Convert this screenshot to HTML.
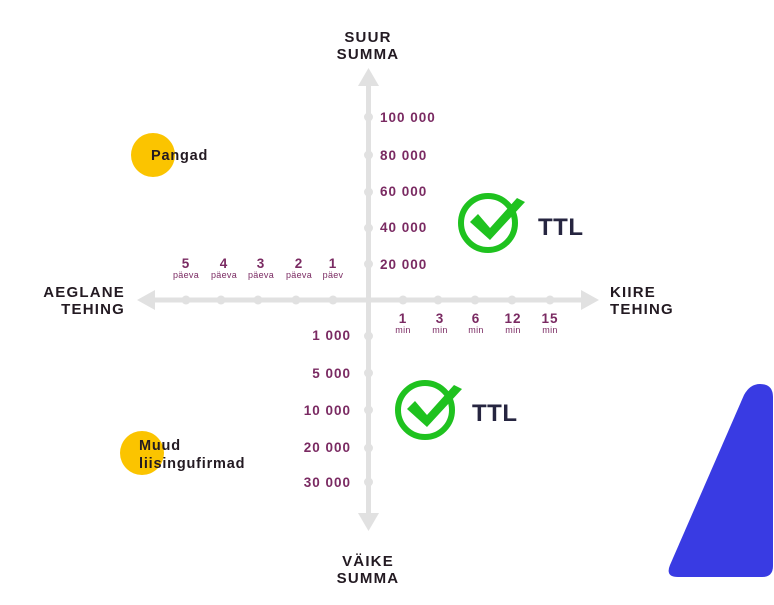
<!DOCTYPE html>
<html><head><meta charset="utf-8"><style>
html,body{margin:0;padding:0;background:#fff;width:774px;height:605px;overflow:hidden}
svg{display:block}
.lb{font-family:"Liberation Sans",sans-serif;font-weight:bold;fill:#231a22;font-size:15px;letter-spacing:1.2px}
.nm{font-family:"Liberation Sans",sans-serif;font-weight:bold;fill:#231a22;font-size:14.5px;letter-spacing:0.8px}
.num{font-family:"Liberation Sans",sans-serif;font-weight:bold;fill:#7a2a62;font-size:13.5px;letter-spacing:1px}
.sm{font-family:"Liberation Sans",sans-serif;fill:#7a2a62;font-size:9px;letter-spacing:0.3px}
.ttl{font-family:"Liberation Sans",sans-serif;font-weight:bold;fill:#262540;font-size:24px;letter-spacing:0.5px}
</style></head><body>
<svg width="774" height="605" viewBox="0 0 774 605">
<g fill="#e1e1e1" stroke="none">
<rect x="366" y="82" width="5" height="434"/>
<polygon points="368.5,68 358,86 379,86"/>
<polygon points="368.5,531 358,513 379,513"/>
<rect x="150" y="297.5" width="434" height="5"/>
<polygon points="137,300 155,290 155,310"/>
<polygon points="599,300 581,290 581,310"/>
<g>
<circle cx="368.5" cy="117" r="4.5"/><circle cx="368.5" cy="155" r="4.5"/><circle cx="368.5" cy="192" r="4.5"/><circle cx="368.5" cy="228" r="4.5"/><circle cx="368.5" cy="264" r="4.5"/>
<circle cx="368.5" cy="336" r="4.5"/><circle cx="368.5" cy="373" r="4.5"/><circle cx="368.5" cy="410" r="4.5"/><circle cx="368.5" cy="448" r="4.5"/><circle cx="368.5" cy="482" r="4.5"/>
<circle cx="186" cy="300" r="4.5"/><circle cx="221" cy="300" r="4.5"/><circle cx="258" cy="300" r="4.5"/><circle cx="296" cy="300" r="4.5"/><circle cx="333" cy="300" r="4.5"/>
<circle cx="403" cy="300" r="4.5"/><circle cx="438" cy="300" r="4.5"/><circle cx="475" cy="300" r="4.5"/><circle cx="512" cy="300" r="4.5"/><circle cx="550" cy="300" r="4.5"/>
</g>
</g>
<text class="lb" x="368" y="42" text-anchor="middle">SUUR</text>
<text class="lb" x="368" y="59" text-anchor="middle">SUMMA</text>
<text class="lb" x="368" y="566" text-anchor="middle">VÄIKE</text>
<text class="lb" x="368" y="583" text-anchor="middle">SUMMA</text>
<text class="lb" x="125" y="297" text-anchor="end">AEGLANE</text>
<text class="lb" x="125" y="314" text-anchor="end">TEHING</text>
<text class="lb" x="610" y="297">KIIRE</text>
<text class="lb" x="610" y="314">TEHING</text>
<g class="num">
<text x="380" y="122">100 000</text><text x="380" y="160">80 000</text><text x="380" y="196">60 000</text><text x="380" y="232">40 000</text><text x="380" y="269">20 000</text>
<g text-anchor="end"><text x="351" y="340">1 000</text><text x="351" y="378">5 000</text><text x="351" y="415">10 000</text><text x="351" y="452">20 000</text><text x="351" y="487">30 000</text></g>
<g text-anchor="middle"><text x="186" y="268">5</text><text x="224" y="268">4</text><text x="261" y="268">3</text><text x="299" y="268">2</text><text x="333" y="268">1</text>
<text x="403" y="323">1</text><text x="440" y="323">3</text><text x="476" y="323">6</text><text x="513" y="323">12</text><text x="550" y="323">15</text></g>
</g>
<g class="sm" text-anchor="middle">
<text x="186" y="278">päeva</text><text x="224" y="278">päeva</text><text x="261" y="278">päeva</text><text x="299" y="278">päeva</text><text x="333" y="278">päev</text>
<text x="403" y="333">min</text><text x="440" y="333">min</text><text x="476" y="333">min</text><text x="513" y="333">min</text><text x="550" y="333">min</text>
</g>
<circle cx="153" cy="155" r="22" fill="#fbc400"/>
<text class="nm" x="151" y="160">Pangad</text>
<circle cx="142" cy="453" r="22" fill="#fbc400"/>
<text class="nm" x="139" y="450">Muud</text>
<text class="nm" x="139" y="468">liisingufirmad</text>
<g fill="none" stroke="#1fc21f" stroke-width="6">
<circle cx="488" cy="223" r="27"/>
<circle cx="425" cy="410" r="27"/>
</g>
<g fill="#1fc21f">
<polygon points="470,222 478,214 490,228 517,198 525,202 490,240"/>
<polygon points="407,409 415,401 427,415 454,385 462,389 427,427"/>
</g>
<text class="ttl" x="538" y="235">TTL</text>
<text class="ttl" x="472" y="421">TTL</text>
<path d="M744,395 Q750,384 760,384 Q773,384 773,397 L773,566 Q773,577 762,577 L678,577 Q665,577 670,565 Z" fill="#393be3"/>
</svg>
</body></html>
